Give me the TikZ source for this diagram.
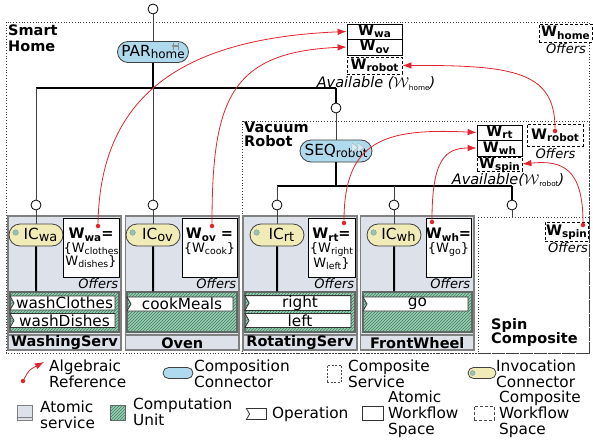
\documentclass[tikz,border=0pt]{standalone}
\usepackage{fontspec}
\setmainfont{DejaVu Sans}
\usetikzlibrary{shapes.misc,shapes.symbols,patterns,arrows.meta}

\definecolor{compblue}{HTML}{AFD9EC}
\definecolor{invyellow}{HTML}{F1ECB7}
\definecolor{atomgray}{HTML}{DDE2EA}
\definecolor{unitgreen}{HTML}{91D3B2}
\definecolor{icondot}{HTML}{93C4AE}
\definecolor{refred}{HTML}{E1242E}

\newcommand{\fsz}[2]{\fontsize{#1}{#2}\selectfont}
\newcommand{\lo}[2][0.72]{\raisebox{-0.3ex}{\scalebox{#1}{#2}}}

\tikzset{
  port/.style={circle,draw=black,fill=white,line width=.8pt,minimum size=10pt,inner sep=0pt},
  wire/.style={draw=black!75,line width=.9pt},
  bus/.style={draw=black,line width=1.3pt},
  trunk/.style={draw=black,line width=2pt},
  compconn/.style={rounded rectangle,draw=black!75,fill=compblue,line width=.8pt,minimum width=71pt,minimum height=21pt,inner sep=0pt},
  invconn/.style={rounded rectangle,draw=black!75,fill=invyellow,line width=.8pt,minimum width=54pt,minimum height=22pt,inner sep=0pt},
  atomic/.style={draw=black!50,fill=atomgray,line width=1.6pt},
  compunit/.style={draw=black!60,fill=unitgreen,line width=1.2pt,inner sep=0pt,postaction={pattern=north east lines,pattern color=unitgreen!55!black}},
  oper/.style={signal,signal from=west,signal to=nowhere,signal pointer angle=120,draw=black!80,fill=white,line width=.8pt,minimum height=14pt,inner sep=0pt},
  wfbox/.style={draw=black,fill=white,line width=.8pt,inner sep=0pt},
  wfitem/.style={wfbox,minimum height=16pt,text height=10.5pt,text depth=2.5pt,font=\fsz{14.5}{15}\bfseries},
  wfdash/.style={dash pattern=on 3pt off 2pt},
  composite/.style={draw=black!75,dotted,line width=.8pt},
  algref/.style={draw=refred,line width=.8pt,-{Latex[length=9pt,width=6.5pt]}},
  refdot/.style={circle,fill=refred,inner sep=0pt,minimum size=4.5pt},
  offers/.style={font=\fsz{13}{13}\itshape,inner sep=1pt},
  avail/.style={font=\fsz{14.5}{14.5}\itshape,inner sep=0pt},
  wftext/.style={align=center,font=\fsz{13}{13.5},inner sep=0pt,anchor=north},
  svcname/.style={font=\fsz{14.5}{14.5}\bfseries,inner sep=0pt},
  lgtext/.style={anchor=west,align=left,inner sep=0pt,font=\fsz{15.3}{16}},
}

\begin{document}
\begin{tikzpicture}[x=1pt,y=-1pt,font=\fsz{15.3}{16.5}]
  \useasboundingbox (0,0) rectangle (593,441);

  % composite scopes
  \draw[composite] (6,22) rectangle (589,353);
  \draw[composite] (242,121) rectangle (589,353);
  \draw[composite] (478,217) rectangle (589,353);
  \node[anchor=north west,align=left,inner sep=0pt,font=\fsz{14.5}{16}\bfseries] (homename) at (8,25) {Smart\\Home};
  \node[anchor=north west,align=left,inner sep=0pt,font=\fsz{14.5}{13.5}\bfseries] (robotname) at (244,122) {Vacuum\\Robot};
  \node[anchor=north west,align=left,inner sep=0pt,font=\fsz{14.5}{14.5}\bfseries] (spinname) at (491,318) {Spin\\Composite};

  % home level
  \node[port] (ptop) at (153,9) {};
  \node[compconn] (par) at (153,52) {PAR\lo[.78]{home}};
  \draw[black!45,line width=.9pt] (173,43) -- (173,50) (178,43) -- (178,50);
  \fill[black!45] (172,45.5) rectangle (179,47.5);
  \coordinate (homebus) at (153,88);
  \node[port] (pwa) at (36,205) {};
  \node[port] (pov) at (153,205) {};
  \node[port] (prb) at (336,108) {};
  \draw[wire] (ptop) -- (par);
  \draw[trunk] (par) -- (homebus);
  \draw[bus] (pwa |- homebus) -- (prb |- homebus);
  \draw[wire] (pwa |- homebus) -- (pwa);
  \draw[wire] (homebus) -- (pov);
  \draw[trunk] (prb |- homebus) -- (prb);

  % robot level
  \node[compconn,minimum width=72pt,minimum height=22pt] (seq) at (336,151) {SEQ\lo[.78]{robot}};
  \draw[black!30,fill=compblue!50] (352,143) -- (358,147.5) -- (352,152) -- cycle (358,143) -- (364,147.5) -- (358,152) -- cycle;
  \coordinate (robotbus) at (336,186);
  \coordinate (spintop) at (512,217);
  \node[port] (prt) at (277,205) {};
  \node[port] (pwh) at (394,205) {};
  \node[port] (psp) at (512,205) {};
  \draw[wire] (prb) -- (seq);
  \draw[trunk] (seq) -- (robotbus);
  \draw[bus] (prt |- robotbus) -- (psp |- robotbus);
  \draw[wire] (prt |- robotbus) -- (prt);
  \draw[wire] (pwh |- robotbus) -- (pwh);
  \draw[trunk] (psp |- robotbus) -- (psp);
  \draw[wire] (psp) -- (spintop);

  % WashingServ
  \draw[atomic] (8,216) rectangle (121,350);
  \draw[black!50,line width=1.2pt] (8,335) -- (121,335);
  \node[svcname] (nwa) at (64.5,343) {WashingServ};
  \node[invconn] (icwa) at (36,235) {\hspace*{9pt}IC\lo[.85]{wa}};
  \fill[icondot,draw=black!40] ([xshift=7pt,yshift=2.5pt]icwa.west) circle (2.8pt);
  \node[compunit,minimum width=109pt,minimum height=40pt] (cuwa) at (64.5,312) {};
  \node[oper,minimum width=105pt] (opwc) at (64.5,303) {washClothes};
  \node[oper,minimum width=105pt] (opwd) at (64.5,320.5) {washDishes};
  \node[wfbox,minimum width=56pt,minimum height=59pt] (wfwa) at (91,247.5) {};
  \node[wftext] (twa) at (91,228) {{\fsz{14.5}{15}\bfseries W\lo{wa}=}\\\{W\lo{clothes}\\W\lo{dishes}\}};
  \node[offers,anchor=north east] (owa) at (wfwa.south east) {Offers};
  \draw[wire] (pwa) -- (icwa);
  \draw[trunk] (icwa) -- (icwa |- cuwa.north);

  % Oven
  \draw[atomic] (125.5,216) rectangle (239,350);
  \draw[black!50,line width=1.2pt] (125.5,335) -- (239,335);
  \node[svcname] (nov) at (182.25,343) {Oven};
  \node[invconn] (icov) at (153,235) {\hspace*{9pt}IC\lo[.85]{ov}};
  \fill[icondot,draw=black!40] ([xshift=7pt,yshift=2.5pt]icov.west) circle (2.8pt);
  \node[compunit,minimum width=110pt,minimum height=40pt] (cuov) at (182,312) {};
  \node[oper,minimum width=106pt] (opcm) at (182,304) {cookMeals};
  \node[wfbox,minimum width=55pt,minimum height=59pt] (wfov) at (209.5,247.5) {};
  \node[wftext] (tov) at (209.5,228) {{\fsz{14.5}{15}\bfseries W\lo{ov} =}\\\{W\lo{cook}\}};
  \node[offers,anchor=north east] (oov) at (wfov.south east) {Offers};
  \draw[wire] (pov) -- (icov);
  \draw[trunk] (icov) -- (icov |- cuov.north);

  % RotatingServ
  \draw[atomic] (243,216) rectangle (357,350);
  \draw[black!50,line width=1.2pt] (243,335) -- (357,335);
  \node[svcname] (nrt) at (300,343) {RotatingServ};
  \node[invconn] (icrt) at (277,235) {\hspace*{9pt}IC\lo[.85]{rt}};
  \fill[icondot,draw=black!40] ([xshift=7pt,yshift=2.5pt]icrt.west) circle (2.8pt);
  \node[compunit,minimum width=110pt,minimum height=40pt] (curt) at (300,312) {};
  \node[oper,minimum width=106pt] (oprt) at (300,303) {right};
  \node[oper,minimum width=106pt] (oplf) at (300,320.5) {left};
  \node[wfbox,minimum width=47pt,minimum height=59pt] (wfrt) at (331.5,247.5) {};
  \node[wftext] (trt) at (331.5,228) {{\fsz{14.5}{15}\bfseries W\lo{rt}=}\\\{W\lo{right}\\W\lo{left}\}};
  \node[offers,anchor=north east] (ort) at (wfrt.south east) {Offers};
  \draw[wire] (prt) -- (icrt);
  \draw[trunk] (icrt) -- (icrt |- curt.north);

  % FrontWheel
  \draw[atomic] (360.5,216) rectangle (474,350);
  \draw[black!50,line width=1.2pt] (360.5,335) -- (474,335);
  \node[svcname] (nwh) at (417.25,343) {FrontWheel};
  \node[invconn] (icwh) at (394,235) {\hspace*{9pt}IC\lo[.85]{wh}};
  \fill[icondot,draw=black!40] ([xshift=7pt,yshift=2.5pt]icwh.west) circle (2.8pt);
  \node[compunit,minimum width=109pt,minimum height=40pt] (cuwh) at (417.5,312) {};
  \node[oper,minimum width=105pt] (opgo) at (417.5,304) {go};
  \node[wfbox,minimum width=45pt,minimum height=59pt] (wfwh) at (448.5,247.5) {};
  \node[wftext] (twh) at (448.5,228) {{\fsz{14.5}{15}\bfseries W\lo{wh}=}\\\{W\lo{go}\}};
  \node[offers,anchor=north east] (owh) at (wfwh.south east) {Offers};
  \draw[wire] (pwh) -- (icwh);
  \draw[trunk] (icwh) -- (icwh |- cuwh.north);

  % workflow spaces
  \node[wfitem,minimum width=55pt,minimum height=15pt] (hwa) at (374.5,31.5) {W\lo{wa}};
  \node[wfitem,minimum width=55pt] (hov) at (374.5,47) {W\lo{ov}};
  \node[wfitem,wfdash,minimum width=55pt,minimum height=17pt] (hrb) at (374.5,65.5) {W\lo{robot}};
  \node[avail] (havail) at (376,83.5) {Available ($\mathcal{W}$\lo[.5]{\upshape home})};
  \node[wfitem,wfdash,minimum width=53pt,minimum height=18pt] (whome) at (565.5,33) {W\lo{home}};
  \node[offers] (ohome) at (566,49) {Offers};

  \node[wfitem,minimum width=45pt,minimum height=15pt] (rrt) at (499.5,132.5) {W\lo{rt}};
  \node[wfitem,minimum width=45pt] (rwh) at (499.5,148) {W\lo{wh}};
  \node[wfitem,wfdash,minimum width=45pt,minimum height=14pt] (rsp) at (499.5,164) {W\lo{spin}};
  \node[avail] (ravail) at (508,180) {Available($\mathcal{W}$\lo[.5]{\upshape robot})};
  \node[wfitem,wfdash,minimum width=56pt,minimum height=22pt] (orb) at (555,135) {W\lo{robot}};
  \node[offers] (orbof) at (555.5,154) {Offers};
  \node[wfitem,wfdash,minimum width=43pt,minimum height=19pt] (osp) at (566.5,231.5) {W\lo{spin}};
  \node[offers] (ospof) at (568,248) {Offers};

  % algebraic references
  \node[refdot] (dwa) at (98,226) {};
  \node[refdot] (dov) at (212,226) {};
  \node[refdot] (drt) at (344,223) {};
  \node[refdot] (dwh) at (432,222) {};
  \node[refdot] (drb) at (555,131) {};
  \node[refdot] (dsp) at (583,225) {};
  \draw[algref] (dwa) .. controls (100,90) and (190,38) .. (hwa.west);
  \draw[algref] (dov) .. controls (212,100) and (230,52) .. (hov.west);
  \draw[algref] (drb) .. controls (555,72) and (515,65) .. (hrb.east);
  \draw[algref] (drt) .. controls (344,140) and (385,128) .. (rrt.west);
  \draw[algref] (dwh) .. controls (432,160) and (445,148) .. (rwh.west);
  \draw[algref] (dsp) .. controls (583,168) and (562,160) .. (rsp.east);

  % legend
  \node[refdot] (lgdot) at (23,381) {};
  \coordinate (lgtip) at (44,362);
  \draw[algref] (lgdot) .. controls (29,370) .. (lgtip);
  \node[lgtext] (lgreftxt) at (49,374) {Algebraic\\Reference};
  \node[compconn,minimum width=30pt,minimum height=11pt] (lgcomp) at (178,373) {};
  \node[lgtext] (lgcomptxt) at (194,374) {Composition\\Connector};
  \node[draw=black!70,dash pattern=on 2pt off 1.5pt,line width=.5pt,minimum width=14pt,minimum height=17pt,inner sep=0pt] (lgcs) at (334,373.5) {};
  \node[lgtext] (lgcstxt) at (348,374) {Composite\\Service};
  \node[invconn,minimum width=28pt,minimum height=11pt] (lginv) at (482,373) {};
  \fill[icondot,draw=black!40] ([xshift=5pt]lginv.west) circle (2.5pt);
  \node[lgtext] (lginvtxt) at (496,374) {Invocation\\Connector};

  \node[atomic,line width=1pt,minimum width=15pt,minimum height=15pt,inner sep=0pt] (lgat) at (25,413) {};
  \draw[black!50,line width=1pt] ([yshift=4pt]lgat.south west) -- ([yshift=4pt]lgat.south east);
  \node[lgtext] (lgattxt) at (40,415) {Atomic\\service};
  \node[compunit,line width=1pt,minimum width=15pt,minimum height=15pt] (lgcu) at (118,413) {};
  \node[lgtext] (lgcutxt) at (133,412) {Computation\\Unit};
  \node[oper,minimum width=20pt,minimum height=11pt] (lgop) at (258,414) {};
  \node[lgtext] (lgoptxt) at (272,414) {Operation};
  \node[wfbox,draw=black!80,minimum width=21pt,minimum height=14pt] (lgaw) at (373,413) {};
  \node[lgtext] (lgawtxt) at (388,414) {Atomic\\Workflow\\Space};
  \node[wfbox,wfdash,draw=black!70,minimum width=20pt,minimum height=14pt] (lgcw) at (484,413) {};
  \node[lgtext] (lgcwtxt) at (499,414) {Composite\\Workflow\\Space};
\end{tikzpicture}
\end{document}
